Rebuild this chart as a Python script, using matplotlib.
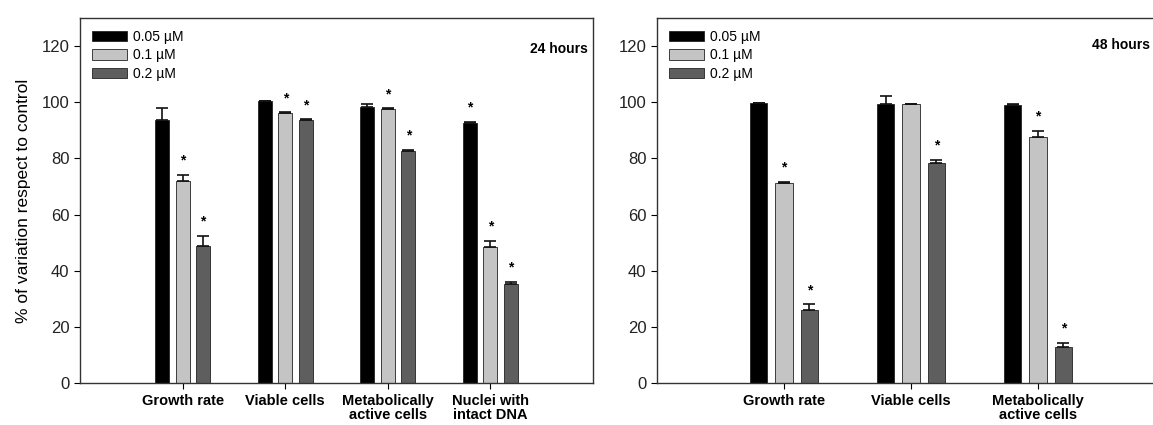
import numpy as np
import matplotlib
matplotlib.use("Agg")
import matplotlib.pyplot as plt
from matplotlib.patches import Patch

plt.rcParams["font.family"] = ["Liberation Sans", "DejaVu Sans"]

# concentrations (legend)
doses = ["0.05 \u00b5M", "0.1 \u00b5M", "0.2 \u00b5M"]

# 24 hours panel
cats_24 = ["Growth rate", "Viable cells", "Metabolically\nactive cells", "Nuclei with\nintact DNA"]
vals_24 = [
    [93.7, 100.6, 98.3, 92.7],   # 0.05 uM
    [71.9, 96.1, 97.6, 48.5],    # 0.1 uM
    [48.8, 93.6, 82.5, 35.3],    # 0.2 uM
]
errs_24 = [
    [4.3, 0.0, 0.9, 0.3],
    [2.3, 0.3, 0.3, 2.2],
    [3.6, 0.3, 0.6, 0.7],
]
stars_24 = [
    [False, False, False, True],
    [True, True, True, True],
    [True, True, True, True],
]

# 48 hours panel
cats_48 = ["Growth rate", "Viable cells", "Metabolically\nactive cells"]
vals_48 = [
    [99.7, 99.5, 99.0],
    [71.4, 99.3, 87.6],
    [25.9, 78.4, 12.7],
]
errs_48 = [
    [0.2, 2.6, 0.2],
    [0.3, 0.2, 2.2],
    [2.2, 1.1, 1.7],
]
stars_48 = [
    [False, False, False],
    [True, False, True],
    [True, True, True],
]

colors = ["#000000", "#c4c4c4", "#5e5e5e"]
width = 0.135
offsets = [-0.2, 0.0, 0.2]


def draw_panel(ax, cats, vals, errs, stars, xmax):
    x = np.arange(1, len(cats) + 1)
    for i in range(3):
        # error bars are drawn upward only, as in the original figure
        yerr = [np.zeros(len(errs[i])), errs[i]]
        ax.bar(x + offsets[i], vals[i], width, color=colors[i], edgecolor="#222222",
               linewidth=0.6, yerr=yerr, capsize=4,
               error_kw=dict(elinewidth=1.2, capthick=1.2, ecolor="#111111"),
               label=doses[i], zorder=2)
        for j, s in enumerate(stars[i]):
            if s:
                ax.text(x[j] + offsets[i], vals[i][j] + errs[i][j] + 2.5, "*",
                        ha="center", va="bottom", fontsize=10, fontweight="bold")
    ax.set_xlim(0, xmax)
    ax.set_ylim(0, 130)
    ax.set_yticks(np.arange(0, 121, 20))
    ax.set_xticks(x)
    ax.set_xticklabels(cats, fontsize=10.5, fontweight="bold", linespacing=1.0)
    ax.tick_params(axis="y", labelsize=12, length=4, width=0.8, direction="out",
                   labelcolor="#222222")
    ax.tick_params(axis="x", length=4, width=0.8, direction="out", pad=4)
    for sp in ax.spines.values():
        sp.set_color("#333333")
        sp.set_linewidth(1.0)
    handles = [Patch(facecolor=colors[i], edgecolor="#222222", linewidth=0.6) for i in range(3)]
    ax.legend(handles, doses, loc="upper left", bbox_to_anchor=(0.0, 1.0), frameon=False,
              fontsize=10, handlelength=2.5, handleheight=0.8, labelspacing=0.33,
              handletextpad=0.45, borderaxespad=0.55, borderpad=0.3)


fig = plt.figure(figsize=(11.53, 4.25), dpi=100)
ax1 = fig.add_axes([0.0694, 0.0988, 0.4449, 0.8588])
ax2 = fig.add_axes([0.5698, 0.0988, 0.4406, 0.8588])

draw_panel(ax1, cats_24, vals_24, errs_24, stars_24, 5)
draw_panel(ax2, cats_48, vals_48, errs_48, stars_48, 4)

ax1.text(0.99, 0.915, "24 hours", transform=ax1.transAxes, ha="right", va="center",
         fontsize=10, fontweight="bold")
# the right panel runs past the figure edge; keep its label inside the figure
ax2.text(0.997, 0.893, "48 hours", transform=fig.transFigure, ha="right", va="center",
         fontsize=10, fontweight="bold")

ax1.set_ylabel("% of variation respect to control", fontsize=12.5, labelpad=8)

fig.savefig("out.png", dpi=100)
